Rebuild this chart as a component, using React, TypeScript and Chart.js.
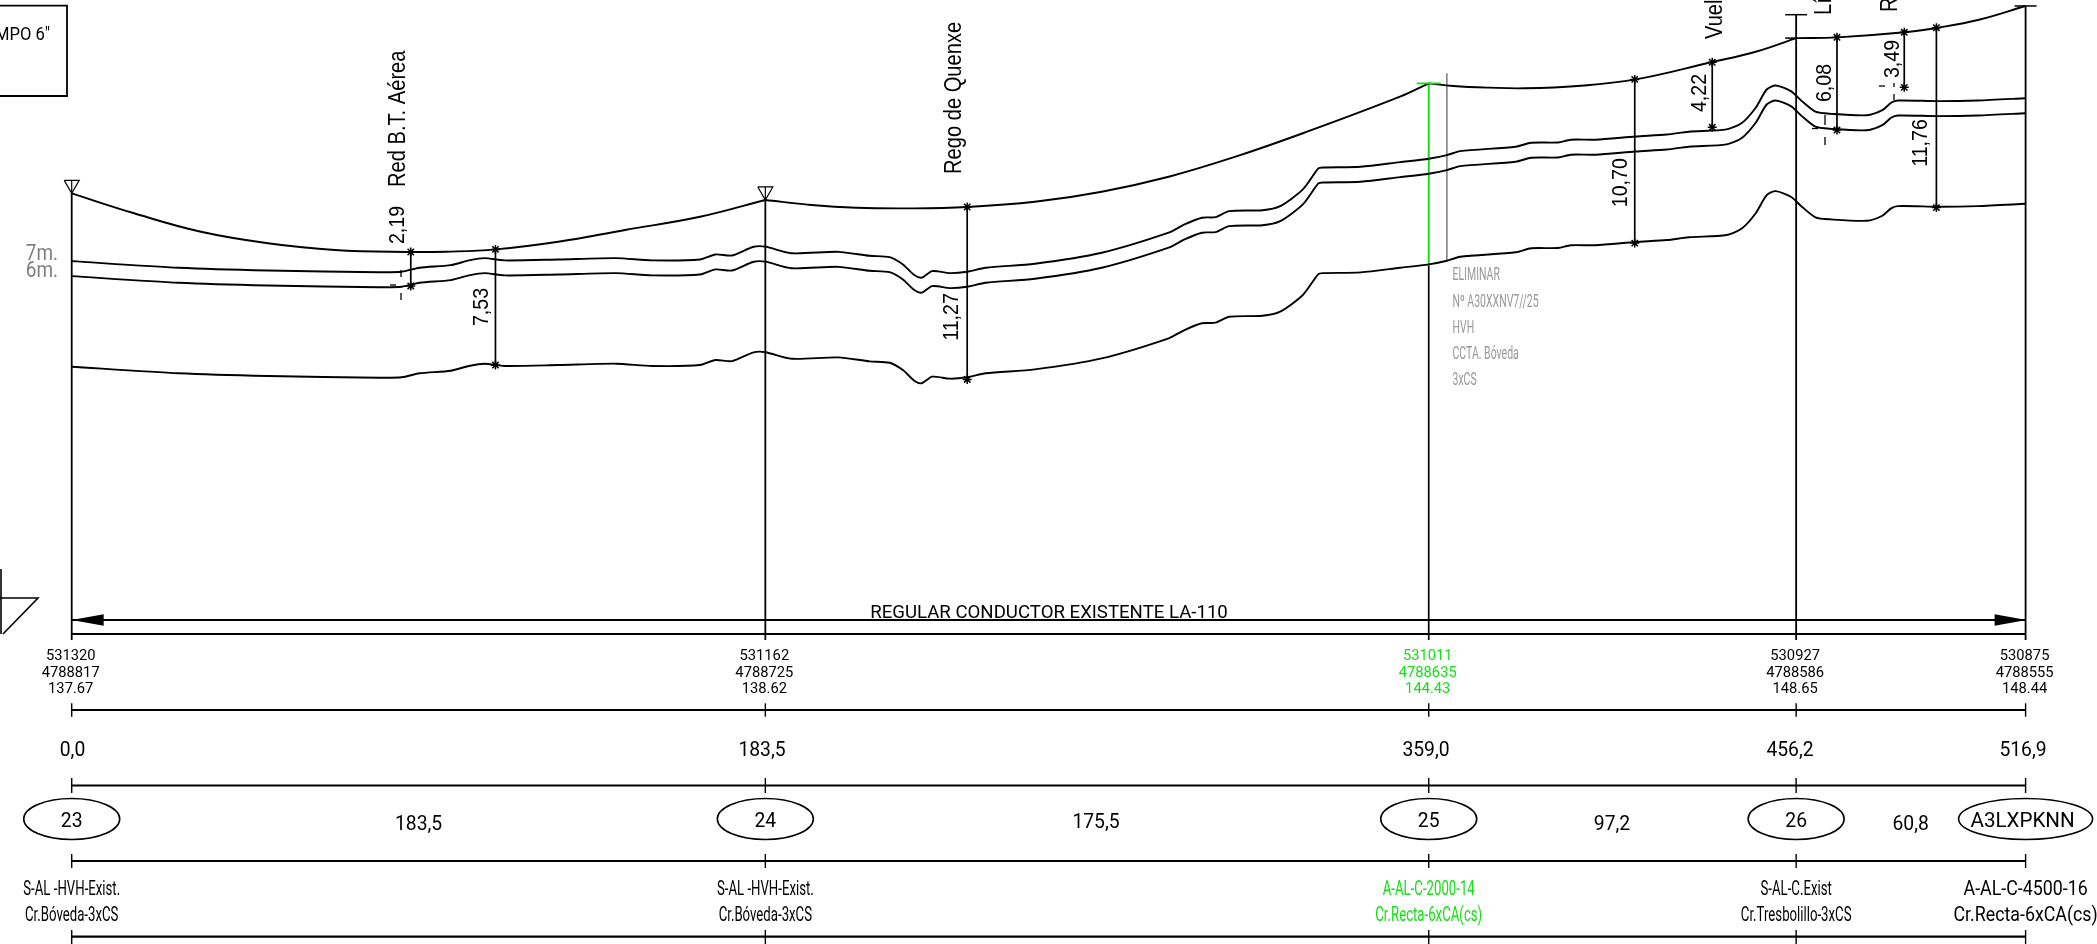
import React, { useEffect, useRef } from "react";
import { Chart, registerables } from "chart.js";

Chart.register(...registerables);

// ---------- Data: distances (m) and elevations (m) ----------
const terrainDistance = [0,28.3,51.9,81.4,87.3,92.0,100.3,105.1,109.2,114.5,128.7,144.0,153.5,166.2,170.3,174.7,180.4,183.5,190.4,202.8,211.1,216.4,219.9,222.9,224.9,227.6,232.4,236.9,241.8,254.8,272.5,290.2,294.4,299.0,302.6,306.2,315.0,319.7,325.7,329.8,331.0,341.0,351.4,359.0,363.8,367.3,382.0,386.1,393.2,396.6,403.1,413.7,422.0,427.8,437.8,441.9,445.5,448.4,450.8,454.8,457.7,461.3,465.4,474.9,479.0,481.3,483.1,493.7,504.3,516.9];
const groundElevation = [137.67,137.24,137.06,136.95,136.98,137.24,137.41,137.72,137.87,137.72,137.78,137.87,137.72,137.78,138.11,138.04,138.61,138.62,138.19,138.28,138.02,137.93,137.45,136.76,136.59,137.02,136.89,136.98,137.24,137.50,138.22,139.53,140.07,140.51,140.55,140.94,141.00,141.27,142.36,143.73,143.79,143.84,144.14,144.36,144.60,144.86,145.15,145.41,145.43,145.61,145.61,145.82,145.95,146.13,146.28,146.72,147.70,148.89,149.15,148.78,148.13,147.44,147.30,147.21,147.54,148.02,148.17,148.13,148.17,148.32];
const clearance6m = [143.59,143.16,142.98,142.87,142.90,143.16,143.33,143.64,143.79,143.64,143.70,143.79,143.64,143.70,144.03,143.96,144.53,144.54,144.11,144.20,143.94,143.85,143.37,142.68,142.51,142.94,142.81,142.90,143.16,143.42,144.14,145.45,145.99,146.43,146.47,146.86,146.92,147.19,148.28,149.65,149.71,149.76,150.06,150.28,150.52,150.78,151.07,151.33,151.35,151.53,151.53,151.74,151.87,152.05,152.20,152.64,153.62,154.81,155.07,154.70,154.05,153.36,153.22,153.13,153.46,153.94,154.09,154.05,154.09,154.24];
const clearance7m = [144.57,144.14,143.96,143.85,143.88,144.14,144.31,144.62,144.77,144.62,144.68,144.77,144.62,144.68,145.01,144.94,145.51,145.52,145.09,145.18,144.92,144.83,144.35,143.66,143.49,143.92,143.79,143.88,144.14,144.40,145.12,146.43,146.97,147.41,147.45,147.84,147.90,148.17,149.26,150.63,150.69,150.74,151.04,151.26,151.50,151.76,152.05,152.31,152.33,152.51,152.51,152.72,152.85,153.03,153.18,153.62,154.60,155.79,156.05,155.68,155.03,154.34,154.20,154.11,154.44,154.92,155.07,155.03,155.07,155.22];

const span1Distance = [0,16.5,34.2,51.9,69.6,89.7,99,112.1,128.7,146.4,166.2,183.5];
const span1Elevation = [149.00,147.70,146.49,145.74,145.30,145.17,145.19,145.34,145.84,146.61,147.47,148.57];
const span2Distance = [183.5,195.7,207.5,221.7,236.9,254.8,272.5,290.2,307.9,325.7,351.4,359];
const span2Elevation = [148.57,148.24,148.06,148.02,148.11,148.45,149.11,150.09,151.40,152.93,155.32,156.19];
const span3Distance = [359,365.5,375,384.3,398.4,413.7,433.7,445.5,456.2];
const span3Elevation = [156.19,156.02,155.91,155.87,156.02,156.45,157.57,158.26,159.15];
const span4Distance = [456.2,467.2,484.9,493.7,504.3,516.9];
const span4Elevation = [159.15,159.20,159.53,159.83,160.33,161.25];

const poleDistance = [0,183.5,359,456.2,516.9];
const poleTop = [149.00,148.57,156.19,160.68,161.25];
const poleFoot = 119.81;
const datum = 120.2;
const greenPoleSplit = 144.31;
const eliminatedPole = { distance: 363.8, foot: 144.6, top: 156.85 };

const dimDistance = [89.7,112.1,236.9,413.5,434,467,484.8,493.3];
const dimTop = [145.17,145.34,148.11,156.45,157.57,159.20,159.53,159.83];
const dimBottom = [142.95,137.78,136.84,145.75,153.32,153.14,155.93,148.07];
const dimLabels = ["2,19","7,53","11,27","10,70","4,22","6,08","3,49","11,76"];

const poleEast = ["531320","531162","531011","530927","530875"];
const poleNorth = ["4788817","4788725","4788635","4788586","4788555"];
const poleZ = ["137.67","138.62","144.43","148.65","148.44"];
const cumulative = ["0,0","183,5","359,0","456,2","516,9"];
const poleIds = ["23","24","25","26","A3LXPKNN"];
const spanLengths = ["183,5","175,5","97,2","60,8"];
const poleType = ["S-AL -HVH-Exist.","S-AL -HVH-Exist.","A-AL-C-2000-14","S-AL-C.Exist","A-AL-C-4500-16"];
const poleArm = ["Cr.Bóveda-3xCS","Cr.Bóveda-3xCS","Cr.Recta-6xCA(cs)","Cr.Tresbolillo-3xCS","Cr.Recta-6xCA(cs)"];
const crossings = ["Red B.T. Aérea","Rego de Quenxe","Vuelo","Línea","Red"];
const removalNote = ["ELIMINAR","Nº A30XXNV7//25","HVH","CCTA. Bóveda","3xCS"];
const regulationNote = "REGULAR CONDUCTOR EXISTENTE LA-110";
const boxText = 'CAMPO 6"';

// ---------- Styles ----------
const BLACK = "#000000";
const GREEN = "#14e014";
const GRAY = "#808080";
const DIN = "Roboto, sans-serif";
const SANS = '"Liberation Sans", Arial, sans-serif';

const zip = (xs: number[], ys: number[]) => xs.map((x, i) => ({ x, y: ys[i] }));

function line(data: { x: number; y: number }[], color = BLACK, width = 1.9, tension = 0) {
  return { type: "scatter" as const, showLine: true, data, borderColor: color, borderWidth: width, tension, pointRadius: 0, fill: false };
}

type TextOpts = { size: number; color?: string; align?: CanvasTextAlign; rot?: boolean; hs?: number; font?: string };

function text(ctx: CanvasRenderingContext2D, s: string, x: number, y: number, o: TextOpts) {
  ctx.save();
  ctx.translate(x, y);
  if (o.rot) ctx.rotate(-Math.PI / 2);
  ctx.scale(o.hs ?? 1, 1);
  ctx.font = `${o.size}px ${o.font ?? DIN}`;
  ctx.fillStyle = o.color ?? BLACK;
  ctx.textAlign = o.align ?? "center";
  ctx.textBaseline = "middle";
  ctx.fillText(s, 0, o.rot ? 0 : 1.5);
  ctx.restore();
}

function stroke(ctx: CanvasRenderingContext2D, pts: number[][], width = 1.5, color = BLACK) {
  ctx.beginPath();
  pts.forEach((p, i) => (i ? ctx.lineTo(p[0], p[1]) : ctx.moveTo(p[0], p[1])));
  ctx.lineWidth = width;
  ctx.strokeStyle = color;
  ctx.stroke();
}

const drawingPlugin = {
  id: "drawing",
  afterDatasetsDraw(chart: any) {
    const ctx: CanvasRenderingContext2D = chart.ctx;
    const X = (d: number) => chart.scales.x.getPixelForValue(d);
    const Y = (e: number) => chart.scales.y.getPixelForValue(e);
    const px = poleDistance.map(X);
    const left = px[0];
    const right = px[px.length - 1];
    ctx.save();

    // Datum line and regulation arrow
    const yBase = Y(datum);
    stroke(ctx, [[left, yBase], [right, yBase]], 2);
    stroke(ctx, [[left, 620], [right, 620]], 2);
    ctx.fillStyle = BLACK;
    ctx.beginPath(); ctx.moveTo(left, 620); ctx.lineTo(left + 32, 614.3); ctx.lineTo(left + 32, 625.7); ctx.fill();
    ctx.beginPath(); ctx.moveTo(right + 1, 620); ctx.lineTo(right - 31, 614.3); ctx.lineTo(right - 31, 625.7); ctx.fill();
    text(ctx, regulationNote, 1049, 611.5, { size: 19, hs: 0.98 });

    // Corner marker and top-left box
    stroke(ctx, [[1, 569], [1, 634]], 1.6);
    stroke(ctx, [[0, 598], [38, 598], [3, 634]], 1.6);
    stroke(ctx, [[0, 5.7], [67, 5.7], [67, 96], [0, 96]], 1.8);
    text(ctx, boxText, 50, 34, { size: 18, align: "right", hs: 0.92 });

    // Clearance tags
    text(ctx, "7m.", 58, 253, { size: 22, color: GRAY, align: "right", hs: 0.86 });
    text(ctx, "6m.", 58, 270, { size: 22, color: GRAY, align: "right", hs: 0.86 });

    // Hanging-clamp triangles and terminal bars
    [0, 1].forEach((i) => {
      const tip = Y(poleTop[i]);
      stroke(ctx, [[px[i] - 7.5, tip - 13], [px[i] + 7.5, tip - 13], [px[i], tip], [px[i] - 7.5, tip - 13]], 1.2);
      stroke(ctx, [[px[i], tip], [px[i], tip - 13]], 1.2);
    });
    stroke(ctx, [[px[2] - 12, Y(poleTop[2])], [px[2] + 12, Y(poleTop[2])]], 1.8, GREEN);
    stroke(ctx, [[px[3] - 11, Y(poleTop[3])], [px[3] + 11, Y(poleTop[3])]], 1.5);
    stroke(ctx, [[px[3] - 11, Y(span4Elevation[0])], [px[3], Y(span4Elevation[0])]], 1.5);
    stroke(ctx, [[px[4] - 11, Y(poleTop[4])], [px[4] + 11, Y(poleTop[4])]], 1.5);

    // Crossing names (rotated)
    const crossingX = [398.5, 954.5, 1716, 1825, 1891];
    const crossingBottom = [187, 174, 39, 15, 12];
    crossings.forEach((s, i) => {
      text(ctx, s, crossingX[i], crossingBottom[i], { size: 23, rot: true, align: "left", font: SANS, hs: 0.875 });
    });

    // Dimension labels (rotated)
    const labelX = [398, 482, 952, 1621, 1700, 1824.5, 1893, 1921];
    const labelY = [225, 307, 317, 182.7, 93, 83, 59, 143];
    dimLabels.forEach((s, i) => {
      text(ctx, s, labelX[i], labelY[i], { size: 22.5, rot: true, font: SANS, hs: 0.87 });
    });

    // Small dash marks beside the short dimensions
    const dashes = [
      [[401, 270], [401, 277]], [[390, 285], [396, 285]], [[401, 293], [401, 300]],
      [[1825, 115], [1825, 125]], [[1812, 128.5], [1818, 128.5]], [[1825, 137], [1825, 145]],
      [[1894, 83], [1894, 87]], [[1879, 86], [1885, 86]], [[1894, 94], [1894, 100]],
    ];
    dashes.forEach((d) => stroke(ctx, d, 1.3));

    // Removal note
    const noteY = [274, 300.7, 326.7, 353.3, 379];
    removalNote.forEach((s, i) => {
      text(ctx, s, 1452.5, noteY[i], { size: 17.5, color: "#999999", align: "left", hs: 0.6 });
    });

    // Table rules
    [[710, 703.3, 716.7], [785.5, 778, 793], [861, 854, 868], [936.7, 930, 944]].forEach(([y, a, b]) => {
      stroke(ctx, [[left, y], [right, y]], 2.2);
      px.forEach((p) => stroke(ctx, [[p, a], [p, b]], 1.4));
    });

    // Table text
    const colorOf = (i: number) => (i === 2 ? GREEN : BLACK);
    px.forEach((p, i) => {
      text(ctx, poleEast[i], p - 1, 655, { size: 15.5, color: colorOf(i), hs: 0.95 });
      text(ctx, poleNorth[i], p - 1, 671.5, { size: 15.5, color: colorOf(i), hs: 0.95 });
      text(ctx, poleZ[i], p - 1, 687.5, { size: 15.5, color: colorOf(i), hs: 0.95 });
    });
    const cumX = [72.5, 762, 1426, 1790, 2023];
    cumulative.forEach((s, i) => text(ctx, s, cumX[i], 749, { size: 21, hs: 0.92 }));

    // Pole id ellipses
    px.forEach((p, i) => {
      ctx.beginPath();
      ctx.ellipse(p, 819, i === 4 ? 67 : 48, 20.5, 0, 0, Math.PI * 2);
      ctx.lineWidth = 1.6;
      ctx.strokeStyle = BLACK;
      ctx.stroke();
      text(ctx, poleIds[i], i === 4 ? p - 3 : p, 820.5, { size: 21, hs: i === 4 ? 0.98 : 0.92 });
    });
    const spanX = [418.6, 1096, 1612, 1910.7];
    const spanY = [823, 821.7, 823, 823];
    spanLengths.forEach((s, i) => text(ctx, s, spanX[i], spanY[i], { size: 21, hs: 0.92 }));

    const typeSize = [20, 20, 20, 20, 20];
    const typeHs = [0.66, 0.66, 0.66, 0.66, 0.89];
    px.forEach((p, i) => {
      text(ctx, poleType[i], p, 888.3, { size: typeSize[i], color: colorOf(i), hs: typeHs[i] });
      text(ctx, poleArm[i], p, 914, { size: typeSize[i], color: colorOf(i), hs: typeHs[i] });
    });

    ctx.restore();
  },
};

export default function App() {
  const ref = useRef<HTMLCanvasElement>(null);

  useEffect(() => {
    const dimensionSets = dimDistance.map((d, i) =>
      line([{ x: d, y: dimBottom[i] }, { x: d, y: dimTop[i] }], BLACK, 1.7)
    );
    const dimensionEnds = {
      type: "scatter" as const,
      data: dimDistance.flatMap((d, i) => [{ x: d, y: dimBottom[i] }, { x: d, y: dimTop[i] }]),
      pointStyle: "star",
      pointRadius: 4.5,
      borderColor: BLACK,
      borderWidth: 1.5,
      backgroundColor: BLACK,
    };
    const poleSets = poleDistance.map((d, i) =>
      i === 2
        ? line([{ x: d, y: poleFoot }, { x: d, y: greenPoleSplit }], BLACK, 1.7)
        : line([{ x: d, y: poleFoot }, { x: d, y: poleTop[i] }], BLACK, 1.8)
    );
    const chart = new Chart(ref.current as HTMLCanvasElement, {
      type: "scatter",
      data: {
        datasets: [
          line(zip(terrainDistance, groundElevation), BLACK, 1.9, 0.25),
          line(zip(terrainDistance, clearance6m), BLACK, 1.9, 0.25),
          line(zip(terrainDistance, clearance7m), BLACK, 1.9, 0.25),
          line(zip(span1Distance, span1Elevation), BLACK, 1.9, 0.4),
          line(zip(span2Distance, span2Elevation), BLACK, 1.9, 0.4),
          line(zip(span3Distance, span3Elevation), BLACK, 1.9, 0.4),
          line(zip(span4Distance, span4Elevation), BLACK, 1.9, 0.4),
          ...poleSets,
          line([{ x: poleDistance[2], y: greenPoleSplit }, { x: poleDistance[2], y: poleTop[2] }], GREEN, 2),
          line([{ x: eliminatedPole.distance, y: eliminatedPole.foot }, { x: eliminatedPole.distance, y: eliminatedPole.top }], GRAY, 1.6),
          ...dimensionSets,
          dimensionEnds,
        ] as any,
      },
      options: {
        animation: false,
        responsive: false,
        devicePixelRatio: 1,
        layout: { padding: 0, autoPadding: false },
        plugins: { legend: { display: false }, tooltip: { enabled: false }, title: { display: false } },
        scales: {
          x: { type: "linear", display: false, min: -18.97, max: 535.79 },
          y: { type: "linear", display: false, min: 99.94, max: 161.64 },
        },
      },
      plugins: [drawingPlugin],
    } as any);
    return () => chart.destroy();
  }, []);

  return (
    <canvas
      ref={ref}
      width={2097}
      height={944}
      style={{ position: "fixed", left: 0, top: 0, background: "#ffffff" }}
    />
  );
}
